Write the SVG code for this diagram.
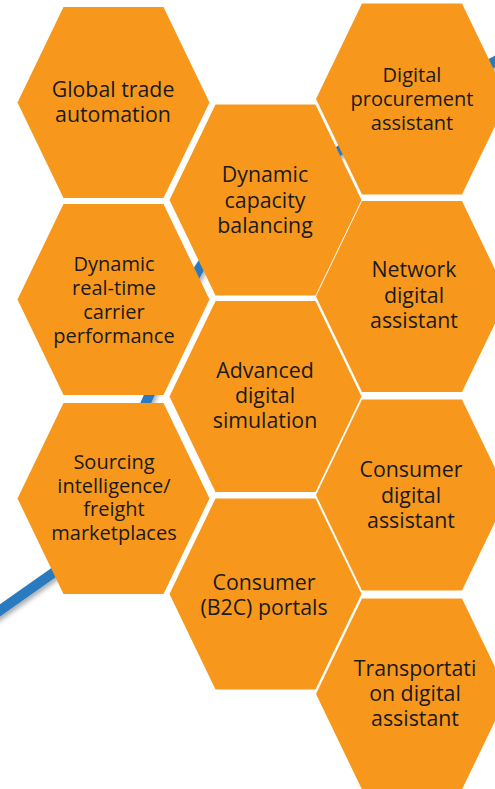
<svg xmlns="http://www.w3.org/2000/svg" xmlns:xlink="http://www.w3.org/1999/xlink" width="495" height="789" viewBox="0 0 495 789">
  <style>
    .hex { fill: #F7981D; stroke: none; }
    .lbl { font-family: "Open Sans", "Liberation Sans", sans-serif; fill: #1a1a1a; text-anchor: middle; }
    .big { font-size: 21.33px; }
    .small { font-size: 20px; }
    .swoosh { fill: none; stroke: #2A7AC0; stroke-width: 10; }
  </style>
  <defs>
    <polygon id="hexShape" points="-96,0 -50,-95.5 50,-95.5 96,0 50,95.5 -50,95.5"/>
    <filter id="shadow" x="-10%" y="-10%" width="120%" height="120%">
      <feDropShadow dx="1.5" dy="3" stdDeviation="2.5" flood-color="#000" flood-opacity="0.35"/>
    </filter>
  </defs>
  <rect width="495" height="789" fill="#ffffff"/>

  <g id="connectors">
    <path class="swoosh" filter="url(#shadow)" d="M -15,621 L 53,573 C 101,537 119,462 148,398 C 167,357 176,308 199,269 C 229,217 290,185 339,151 C 388,117 439,91 492,63 L 530,43"/>
  </g>

  <g id="global-trade">
    <use xlink:href="#hexShape" href="#hexShape" class="hex" x="113.5" y="102.5"/>
    <text class="lbl big"><tspan x="113" y="97">Global trade</tspan><tspan x="113" y="122">automation</tspan></text>
  </g>
  <g id="dynamic-carrier">
    <use xlink:href="#hexShape" href="#hexShape" class="hex" x="113.5" y="299.5"/>
    <text class="lbl small"><tspan x="114" y="271">Dynamic</tspan><tspan x="114" y="295">real-time</tspan><tspan x="114" y="319">carrier</tspan><tspan x="114" y="343">performance</tspan></text>
  </g>
  <g id="sourcing">
    <use xlink:href="#hexShape" href="#hexShape" class="hex" x="113.5" y="498.5"/>
    <text class="lbl small"><tspan x="114" y="469">Sourcing</tspan><tspan x="114" y="492.5">intelligence/</tspan><tspan x="114" y="516">freight</tspan><tspan x="114" y="539.5">marketplaces</tspan></text>
  </g>
  <g id="dynamic-capacity">
    <use xlink:href="#hexShape" href="#hexShape" class="hex" x="265.5" y="200"/>
    <text class="lbl big"><tspan x="265" y="182">Dynamic</tspan><tspan x="265" y="207.5">capacity</tspan><tspan x="265" y="233">balancing</tspan></text>
  </g>
  <g id="advanced-simulation">
    <use xlink:href="#hexShape" href="#hexShape" class="hex" x="265.5" y="396.5"/>
    <text class="lbl big"><tspan x="265" y="378">Advanced</tspan><tspan x="265" y="403">digital</tspan><tspan x="265" y="428">simulation</tspan></text>
  </g>
  <g id="consumer-portals">
    <use xlink:href="#hexShape" href="#hexShape" class="hex" x="265.5" y="594"/>
    <text class="lbl big"><tspan x="264" y="590">Consumer</tspan><tspan x="264" y="615">(B2C) portals</tspan></text>
  </g>
  <g id="digital-procurement">
    <use xlink:href="#hexShape" href="#hexShape" class="hex" x="412" y="99"/>
    <text class="lbl small"><tspan x="412" y="82">Digital</tspan><tspan x="412" y="106">procurement</tspan><tspan x="412" y="129.5">assistant</tspan></text>
  </g>
  <g id="network-assistant">
    <use xlink:href="#hexShape" href="#hexShape" class="hex" x="412" y="296.5"/>
    <text class="lbl big"><tspan x="414" y="277">Network</tspan><tspan x="414" y="303">digital</tspan><tspan x="414" y="328">assistant</tspan></text>
  </g>
  <g id="consumer-assistant">
    <use xlink:href="#hexShape" href="#hexShape" class="hex" x="412" y="495"/>
    <text class="lbl big"><tspan x="411" y="477">Consumer</tspan><tspan x="411" y="503">digital</tspan><tspan x="411" y="528">assistant</tspan></text>
  </g>
  <g id="transportation-assistant">
    <use xlink:href="#hexShape" href="#hexShape" class="hex" x="412" y="694"/>
    <text class="lbl big"><tspan x="415" y="676">Transportati</tspan><tspan x="415" y="701">on digital</tspan><tspan x="415" y="726">assistant</tspan></text>
  </g>
</svg>
